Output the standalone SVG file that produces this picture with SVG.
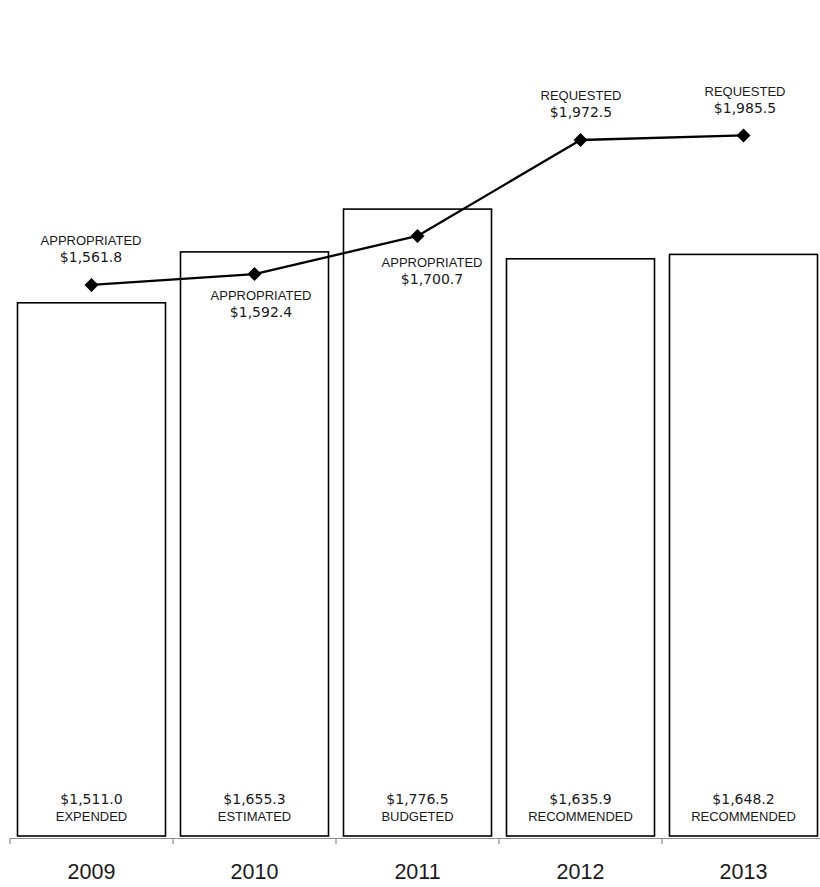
<svg xmlns="http://www.w3.org/2000/svg" width="820" height="887" viewBox="0 0 820 887">
<style>
.bar{fill:#fff;stroke:#000;stroke-width:1.6}
.lbl{font-family:"Liberation Sans",Arial,sans-serif;font-size:13px;fill:#1a1a1a;text-anchor:middle}
.num{font-family:"DejaVu Sans","Liberation Sans",sans-serif;font-size:14px;fill:#1a1a1a;text-anchor:middle}
.yr{font-family:"Liberation Sans",Arial,sans-serif;font-size:21.5px;fill:#1a1a1a;text-anchor:middle}
.axis{stroke:#8c8c8c;stroke-width:1.2;fill:none}
.series{fill:none;stroke:#000;stroke-width:2.3;stroke-linejoin:round}
</style>
<defs>
<marker id="dia" viewBox="-8 -8 16 16" markerWidth="16" markerHeight="16" markerUnits="userSpaceOnUse" refX="0" refY="0">
<path d="M0,-7 L7,0 L0,7 L-7,0 Z" fill="#000"/>
</marker>
</defs>
<rect width="820" height="887" fill="#fff"/>
<g id="bar-2009"><rect class="bar" x="17.5" y="302.8" width="148" height="533.2"/><text class="num" x="91.5" y="804">$1,511.0</text><text class="lbl" x="91.5" y="821">EXPENDED</text></g>
<g id="bar-2010"><rect class="bar" x="180.5" y="251.9" width="148" height="584.1"/><text class="num" x="254.5" y="804">$1,655.3</text><text class="lbl" x="254.5" y="821">ESTIMATED</text></g>
<g id="bar-2011"><rect class="bar" x="343.5" y="209.1" width="148" height="626.9"/><text class="num" x="417.5" y="804">$1,776.5</text><text class="lbl" x="417.5" y="821">BUDGETED</text></g>
<g id="bar-2012"><rect class="bar" x="506.5" y="258.8" width="148" height="577.2"/><text class="num" x="580.5" y="804">$1,635.9</text><text class="lbl" x="580.5" y="821">RECOMMENDED</text></g>
<g id="bar-2013"><rect class="bar" x="669.5" y="254.4" width="148" height="581.6"/><text class="num" x="743.5" y="804">$1,648.2</text><text class="lbl" x="743.5" y="821">RECOMMENDED</text></g>
<g id="axis">
<path class="axis" d="M10,838.5 H820 M10,838 V844 M173,838 V844 M336,838 V844 M499,838 V844 M662,838 V844"/>
<text class="yr" x="91.5" y="879">2009</text>
<text class="yr" x="254.5" y="879">2010</text>
<text class="yr" x="417.5" y="879">2011</text>
<text class="yr" x="580.5" y="879">2012</text>
<text class="yr" x="743.5" y="879">2013</text>
</g>
<g id="connectors">
<polyline class="series" points="91.5,284.9 254.5,274.1 417.5,235.9 580.5,140 743.5,135.4" marker-start="url(#dia)" marker-mid="url(#dia)" marker-end="url(#dia)"/>
</g>
<g id="pt-2009"><text class="lbl" x="91" y="245">APPROPRIATED</text><text class="num" x="91" y="262">$1,561.8</text></g>
<g id="pt-2010"><text class="lbl" x="261" y="300">APPROPRIATED</text><text class="num" x="261" y="317">$1,592.4</text></g>
<g id="pt-2011"><text class="lbl" x="432" y="267">APPROPRIATED</text><text class="num" x="432" y="284">$1,700.7</text></g>
<g id="pt-2012"><text class="lbl" x="581" y="100">REQUESTED</text><text class="num" x="581" y="117">$1,972.5</text></g>
<g id="pt-2013"><text class="lbl" x="745" y="96">REQUESTED</text><text class="num" x="745" y="113">$1,985.5</text></g>
</svg>
